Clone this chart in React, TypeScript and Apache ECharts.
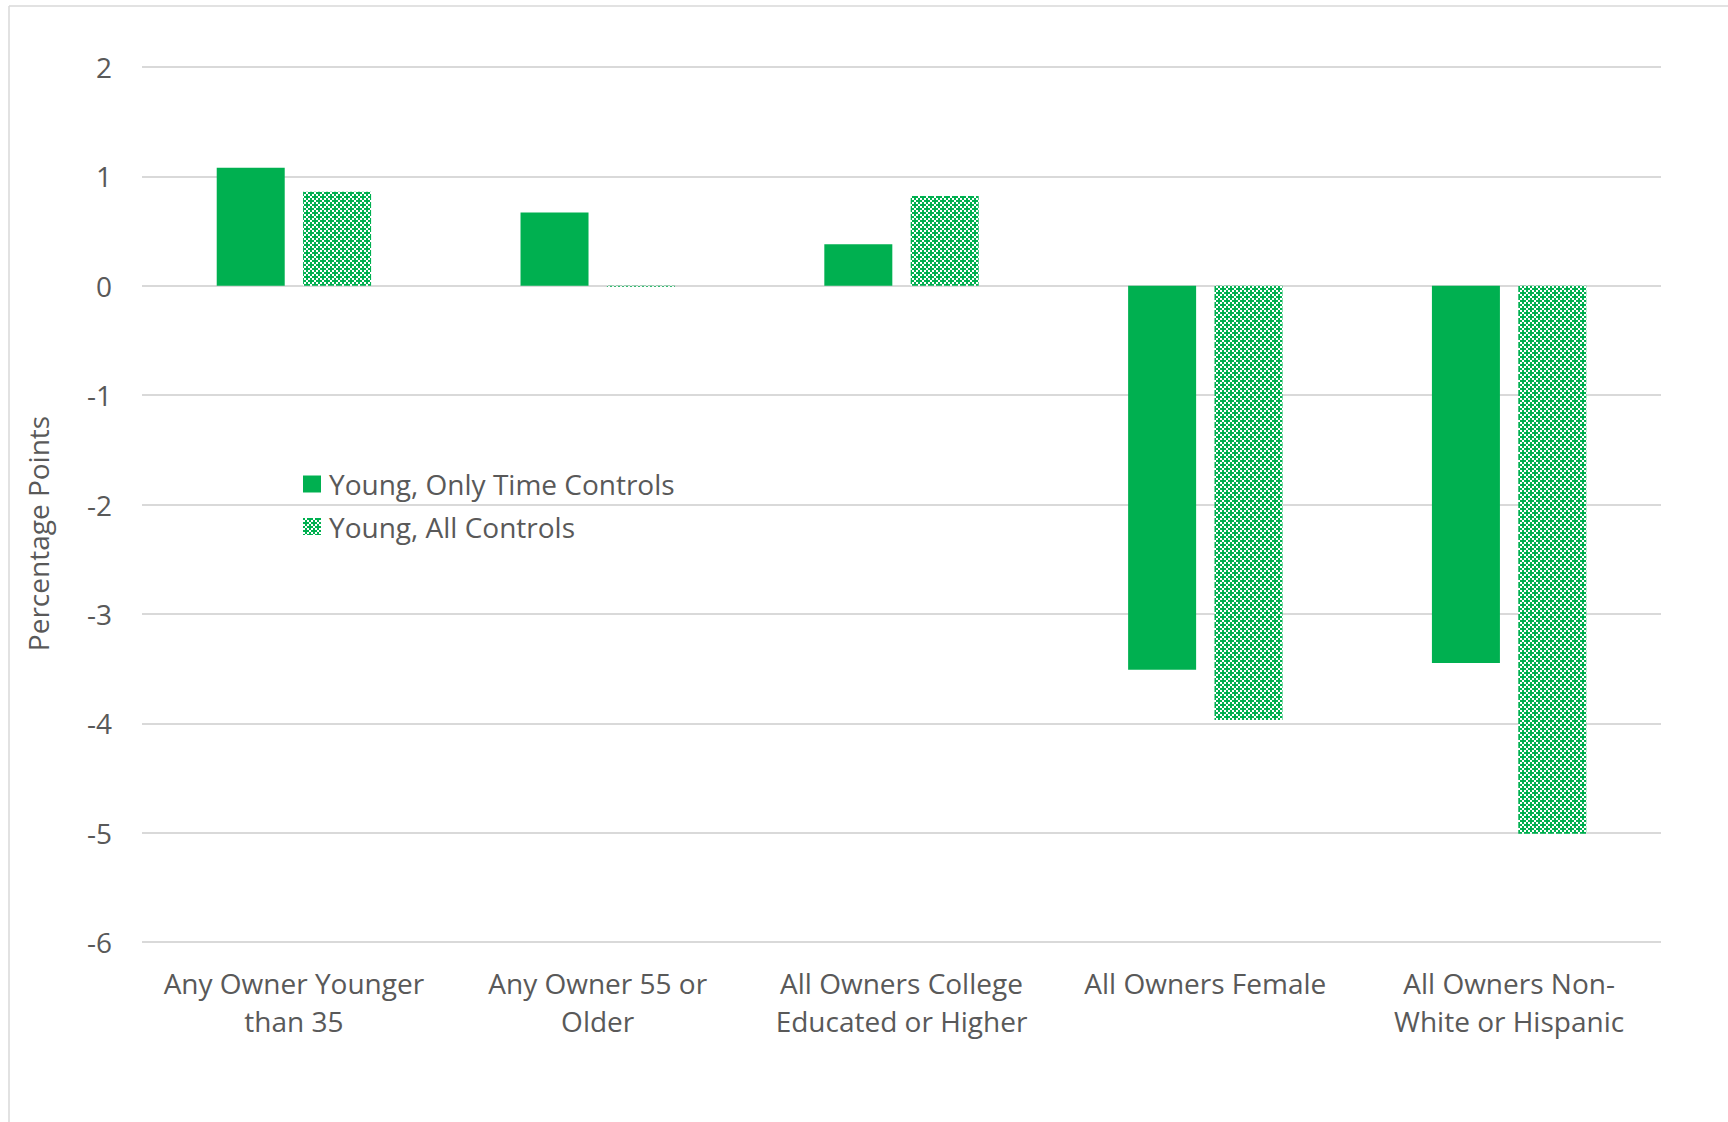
import React, { useEffect, useRef } from "react";
import * as echarts from "echarts";

const categories = [
  "Any Owner Younger\nthan 35",
  "Any Owner 55 or\nOlder",
  "All Owners College\nEducated or Higher",
  "All Owners Female",
  "All Owners Non-\nWhite or Hispanic",
];
const seriesNames = ["Young, Only Time Controls", "Young, All Controls"];
const onlyTimeControls = [1.08, 0.67, 0.38, -3.51, -3.45];
const allControls = [0.86, -0.01, 0.82, -3.97, -5.01];
const yTicks = { min: -6, max: 2, interval: 1 };

const GREEN = "#00B050";
const TEXT = "#595959";
const FONT = "'Open Sans', 'Noto Sans', sans-serif";

function makePattern(): string {
  const c = document.createElement("canvas");
  c.width = 8;
  c.height = 8;
  const ctx = c.getContext("2d")!;
  ctx.fillStyle = "#ffffff";
  ctx.fillRect(0, 0, 8, 8);
  ctx.fillStyle = GREEN;
  for (let y = 0; y < 4; y++) {
    for (let x = 0; x < 4; x++) {
      const green = (x + y) % 2 === 0 || (x === 1 && y === 2) || (x === 3 && y === 0);
      if (green) ctx.fillRect(x * 2, y * 2, 2, 2);
    }
  }
  return c.toDataURL();
}

export default function App() {
  const ref = useRef<HTMLDivElement>(null);
  useEffect(() => {
    if (!ref.current) return;
    const chart = echarts.init(ref.current, undefined, { renderer: "svg" });
    const pattern = {
      image: makePattern(),
      repeat: "repeat",
      imageWidth: 8,
      imageHeight: 8,
    } as any;
    chart.setOption({
      animation: false,
      backgroundColor: "#ffffff",
      textStyle: { fontFamily: FONT },
      graphic: [
        { type: "line", shape: { x1: 9, y1: 6, x2: 1728, y2: 6 }, style: { stroke: "#d9d9d9", lineWidth: 1.5 } },
        { type: "line", shape: { x1: 9, y1: 6, x2: 9, y2: 1122 }, style: { stroke: "#d9d9d9", lineWidth: 1.5 } },
      ],
      grid: { left: 142, right: 67, top: 67, bottom: 180, containLabel: false },
      legend: {
        orient: "vertical",
        left: 303,
        top: 467,
        padding: 0,
        itemWidth: 18,
        itemHeight: 17,
        itemGap: 8.5,
        icon: "rect",
        textStyle: { fontSize: 28, color: TEXT, fontFamily: FONT, lineHeight: 34, padding: [0, 0, 0, 3] },
        data: seriesNames,
      },
      xAxis: {
        type: "category",
        data: categories,
        axisLine: { show: false },
        axisTick: { show: false },
        axisLabel: {
          fontSize: 28,
          color: TEXT,
          fontFamily: FONT,
          lineHeight: 38,
          margin: 22,
          interval: 0,
        },
      },
      yAxis: {
        type: "value",
        min: yTicks.min,
        max: yTicks.max,
        interval: yTicks.interval,
        name: "Percentage Points",
        nameLocation: "middle",
        nameGap: 90,
        nameTextStyle: { fontSize: 28, color: TEXT, fontFamily: FONT, padding: [0, 58, 0, 0] },
        axisLine: { show: false },
        axisTick: { show: false },
        axisLabel: { fontSize: 28, color: TEXT, fontFamily: FONT, margin: 30 },
        splitLine: { lineStyle: { color: "#d9d9d9", width: 2 } },
      },
      series: [
        {
          name: seriesNames[0],
          type: "bar",
          data: onlyTimeControls,
          barWidth: 68,
          barGap: "27%",
          itemStyle: { color: GREEN },
        },
        {
          name: seriesNames[1],
          type: "bar",
          data: allControls,
          barWidth: 68,
          barGap: "27%",
          itemStyle: { color: pattern },
        },
      ],
    });
    return () => chart.dispose();
  }, []);
  return (
    <div
      ref={ref}
      style={{ position: "fixed", left: 0, top: 0, width: 1728, height: 1122 }}
    />
  );
}
